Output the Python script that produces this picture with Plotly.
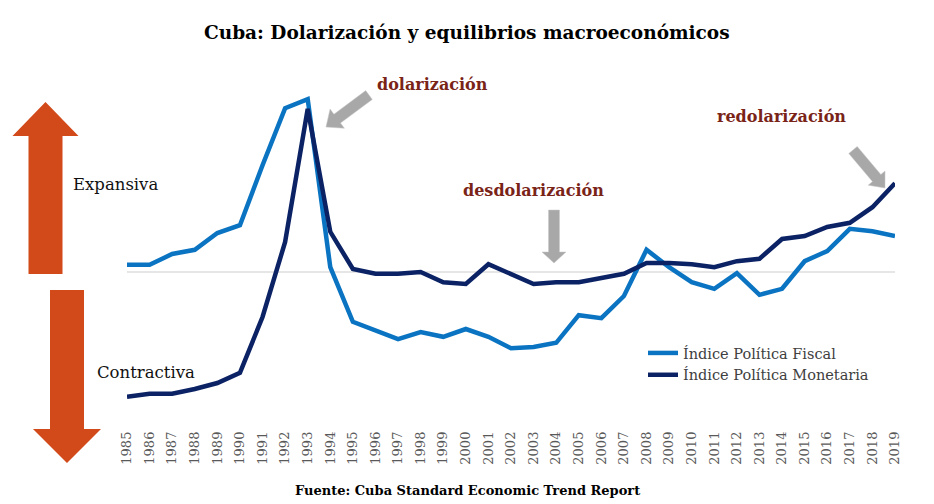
import math
import plotly.graph_objects as go

years = list(range(1985, 2020))
tick_labels = [str(y) for y in years]

# Índice Política Fiscal
fiscal = [0.12, 0.12, 0.30, 0.37, 0.65, 0.78, 1.78, 2.73, 2.88, 0.08, -0.83, -0.97,
          -1.12, -1.00, -1.08, -0.95, -1.08, -1.27, -1.25, -1.18, -0.72, -0.77, -0.40,
          0.37, 0.08, -0.17, -0.28, -0.02, -0.38, -0.28, 0.18, 0.35, 0.72, 0.68, 0.60]
# Índice Política Monetaria
monetaria = [-2.08, -2.03, -2.03, -1.95, -1.85, -1.68, -0.75, 0.50, 2.72, 0.67, 0.05, -0.03,
             -0.03, 0.00, -0.17, -0.20, 0.13, -0.03, -0.20, -0.17, -0.17, -0.10, -0.03,
             0.15, 0.15, 0.13, 0.08, 0.18, 0.22, 0.55, 0.60, 0.75, 0.82, 1.08, 1.48]

series_names = ["Índice Política Fiscal", "Índice Política Monetaria"]
series_colors = ["#0A74C2", "#0B2265"]

W, H = 934, 504
L, R, T, B = 127, 895, 92, 420   # plot area in pixels
Y_TOP, Y_BOT = (272 - T) / 60.0, -(B - 272) / 60.0

def px(xp, yp):
    return (xp - L) / (R - L), (B - yp) / (B - T)

def path_from(points):
    pts = [px(x, y) for x, y in points]
    return "M " + " L ".join(f"{a:.5f},{b:.5f}" for a, b in pts) + " Z"

def block_arrow(tail, tip, shaft_w, head_w, head_len):
    tx, ty = tail
    hx, hy = tip
    dx, dy = hx - tx, hy - ty
    d = math.hypot(dx, dy)
    ux, uy = dx / d, dy / d
    nx, ny = -uy, ux
    bx, by = hx - ux * head_len, hy - uy * head_len
    s, h = shaft_w / 2, head_w / 2
    return [
        (tx + nx * s, ty + ny * s),
        (bx + nx * s, by + ny * s),
        (bx + nx * h, by + ny * h),
        (hx, hy),
        (bx - nx * h, by - ny * h),
        (bx - nx * s, by - ny * s),
        (tx - nx * s, ty - ny * s),
    ]

fig = go.Figure()
for name, vals, col in zip(series_names, [fiscal, monetaria], series_colors):
    fig.add_trace(go.Scatter(x=years, y=vals, mode="lines", name=name,
                             line=dict(color=col, width=4.5)))

shapes = []
orange = "#D24A1A"
# up arrow (expansiva)
shapes.append(dict(type="path", xref="paper", yref="paper", layer="above",
                   path=path_from(block_arrow((45.5, 274), (45.5, 102), 34, 66, 34)),
                   fillcolor=orange, line=dict(width=0)))
# down arrow (contractiva)
shapes.append(dict(type="path", xref="paper", yref="paper", layer="above",
                   path=path_from(block_arrow((67, 290), (67, 463), 34, 68, 34)),
                   fillcolor=orange, line=dict(width=0)))
gray = "#A8A8A8"
for tail, tip, sw, hw, hl in [((369, 95), (326, 127), 11, 24, 14),
                               ((554, 210), (554, 263), 11, 24, 11),
                               ((853, 150), (885, 188), 11, 22, 13)]:
    shapes.append(dict(type="path", xref="paper", yref="paper", layer="above",
                       path=path_from(block_arrow(tail, tip, sw, hw, hl)),
                       fillcolor=gray, line=dict(color="#C8C8C8", width=0.5)))

ann_color = "#7A2418"
annotations = []
def add_text(text, x, y, size, color, bold=False, anchor="center"):
    xp, yp = px(x, y)
    annotations.append(dict(text=f"<b>{text}</b>" if bold else text, x=xp, y=yp,
                            xref="paper", yref="paper", showarrow=False,
                            xanchor=anchor, yanchor="middle",
                            font=dict(family="DejaVu Serif", size=size, color=color)))

add_text("dolarización", 432, 84, 16, ann_color, bold=True)
add_text("desdolarización", 533, 190, 16, ann_color, bold=True)
add_text("redolarización", 781, 117, 16, ann_color, bold=True)
add_text("Expansiva", 71, 184, 16.5, "#111111", anchor="left")
add_text("Contractiva", 95, 372, 16.5, "#111111", anchor="left")
add_text("Cuba: Dolarización y equilibrios macroeconómicos", 467, 32, 18.5, "#000000", bold=True)
add_text("Fuente: Cuba Standard Economic Trend Report", 467, 490, 13, "#000000", bold=True)

lx, ly = px(643, 337)
fig.update_layout(
    width=W, height=H,
    margin=dict(l=L, r=W - R, t=T, b=H - B, pad=0),
    paper_bgcolor="white", plot_bgcolor="white",
    showlegend=True,
    legend=dict(x=lx, y=ly, xanchor="left", yanchor="top",
                font=dict(family="DejaVu Serif", size=14.5, color="#404040"),
                bgcolor="rgba(0,0,0,0)", itemwidth=30, tracegroupgap=0),
    xaxis=dict(range=[1985, 2019], tickmode="array", tickvals=years, ticktext=tick_labels,
               tickangle=-90, ticks="", showgrid=False, zeroline=False, showline=False,
               ticklabelstandoff=8,
               tickfont=dict(family="DejaVu Serif", size=13, color="#595959")),
    yaxis=dict(range=[Y_BOT, Y_TOP], showticklabels=False, ticks="", showgrid=False,
               zeroline=True, zerolinecolor="#E6E6E6", zerolinewidth=1.5, showline=False),
    shapes=shapes, annotations=annotations,
)
fig.write_html("out.html")
